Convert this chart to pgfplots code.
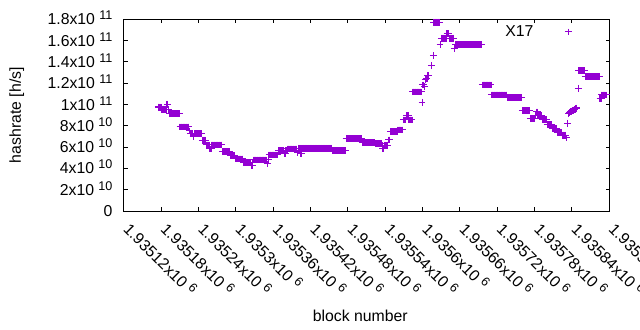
\documentclass[border=0pt]{standalone}
\usepackage{fontspec}
\setmainfont{Liberation Sans}
\usepackage{pgfplots}
\pgfplotsset{compat=1.18}
\definecolor{dv}{HTML}{9400D3}
\newcommand{\sx}[2]{#1x10\ \raisebox{5bp}{\fontsize{12.6bp}{13bp}\selectfont #2}}

\begin{document}
\begin{tikzpicture}[font=\fontsize{15.8bp}{19bp}\selectfont]
\begin{axis}[
  at={(0,0)}, anchor=south west,
  scale only axis, width=485.3bp, height=191.7bp,
  xmin=120, xmax=900, ymin=0, ymax=1.8e11,
  scaled y ticks=false, scaled x ticks=false,
  axis line style={line width=1bp},
  every tick/.style={line width=1bp, black},
  major tick length=3.8bp,
  tick align=inside,
  xtick={120,180,240,300,360,420,480,540,600,660,720,780,840,900},
  xticklabels={\sx{1.93512}{6},\sx{1.93518}{6},\sx{1.93524}{6},\sx{1.9353}{6},\sx{1.93536}{6},\sx{1.93542}{6},\sx{1.93548}{6},\sx{1.93554}{6},\sx{1.9356}{6},\sx{1.93566}{6},\sx{1.93572}{6},\sx{1.93578}{6},\sx{1.93584}{6},\sx{1.9359}{6}},
  ytick={0,2e10,4e10,6e10,8e10,1e11,1.2e11,1.4e11,1.6e11,1.8e11},
  yticklabels={0,\sx{2}{10},\sx{4}{10},\sx{6}{10},\sx{8}{10},\sx{1}{11},\sx{1.2}{11},\sx{1.4}{11},\sx{1.6}{11},\sx{1.8}{11}},
  xticklabel style={inner sep=0pt, xshift=-1.5bp, yshift=-19.5bp, rotate=-45, anchor=base west},
  yticklabel style={inner sep=0pt, xshift=-11.3bp, yshift=-5.5bp, anchor=base east},
  xlabel={block number},
  ylabel={hashrate [h/s]},
  every axis x label/.style={at={(axis description cs:0.487,0)}, yshift=-105bp, anchor=center, inner sep=0pt},
  every axis y label/.style={at={(axis description cs:0,0.5)}, xshift=-107.3bp, rotate=90, anchor=center, inner sep=0pt},
  legend plot pos=right,
  legend style={draw=none, fill=none, inner sep=0pt, outer sep=0pt,
    at={(axis description cs:1,1)}, anchor=east, xshift=-37.6bp, yshift=-12.7bp,
    nodes={inner sep=0pt}, /tikz/every odd column/.style={column sep=31.4bp}},
  legend image code/.code={\draw[#1] plot coordinates {(0bp,0bp)};},
]
% x = block number - 1935000, y = hashrate [h/s]
\addplot[only marks, mark=+, mark size=3.4bp, color=dv, line width=1bp] coordinates {
(175,9.77e10)(176,9.73e10)(177,9.73e10)(178,9.73e10)(179,9.73e10)(180,9.73e10)
(181,9.55e10)(182,9.55e10)(183,9.55e10)(184,9.55e10)(185,9.55e10)(186,9.55e10)(187,9.55e10)(188,9.55e10)
(189,1.001e11)(190,1.001e11)(191,9.55e10)
(193,9.16e10)(194,9.16e10)(195,9.16e10)(196,9.16e10)(197,9.16e10)(198,9.16e10)(199,9.16e10)(200,9.16e10)(201,9.16e10)
(202,9.16e10)(203,9.16e10)(204,9.16e10)(205,9.16e10)(206,9.16e10)(207,9.16e10)(208,9.16e10)(209,9.16e10)
(210,7.89e10)(211,7.89e10)(212,7.89e10)(213,7.89e10)(214,7.89e10)(215,7.89e10)(216,7.89e10)(217,7.89e10)
(218,7.89e10)(219,7.89e10)(220,7.89e10)(221,7.89e10)(222,7.89e10)(223,7.89e10)(224,7.89e10)
(225,7.52e10)(226,7.52e10)
(227,7.24e10)(228,7.24e10)(229,7.24e10)(230,7.24e10)(231,7.00e10)(232,7.00e10)
(233,7.24e10)(234,7.24e10)(235,7.24e10)(236,7.24e10)(237,7.24e10)(238,7.24e10)(239,7.24e10)
(240,7.24e10)(241,7.24e10)(242,7.24e10)(243,7.24e10)(244,7.24e10)(245,7.24e10)
(246,6.63e10)(247,6.63e10)(248,6.63e10)(249,6.63e10)(250,6.63e10)(251,6.63e10)
(252,6.20e10)(253,6.20e10)(254,6.20e10)(255,6.20e10)(256,6.20e10)(257,6.20e10)
(258,5.83e10)(259,5.83e10)(260,5.83e10)
(261,6.20e10)(262,6.20e10)(263,6.20e10)(264,6.20e10)(265,6.20e10)(266,6.20e10)(267,6.20e10)(268,6.20e10)(269,6.20e10)
(270,6.20e10)(271,6.20e10)(272,6.20e10)(273,6.20e10)(274,6.20e10)(275,6.20e10)(276,6.20e10)(277,6.20e10)
(278,5.55e10)(279,5.55e10)(280,5.55e10)(281,5.55e10)(282,5.55e10)(283,5.55e10)(284,5.55e10)
(285,5.55e10)(286,5.55e10)(287,5.55e10)(288,5.55e10)(289,5.55e10)(290,5.55e10)
(291,5.22e10)(292,5.22e10)(293,5.22e10)(294,5.22e10)(295,5.22e10)(296,5.22e10)(297,5.22e10)(298,5.22e10)
(299,4.89e10)(300,4.89e10)(301,4.89e10)(302,4.89e10)(303,4.89e10)(304,4.89e10)(305,4.89e10)
(306,4.89e10)(307,4.89e10)(308,4.89e10)(309,4.89e10)(310,4.89e10)(311,4.89e10)
(312,4.56e10)(313,4.56e10)(314,4.56e10)(315,4.56e10)(316,4.56e10)(317,4.56e10)(318,4.56e10)
(319,4.56e10)(320,4.56e10)(321,4.56e10)(322,4.56e10)(323,4.56e10)(324,4.56e10)
(325,4.23e10)(326,4.23e10)(327,4.56e10)
(328,4.79e10)(329,4.79e10)(330,4.79e10)(331,4.79e10)(332,4.79e10)(333,4.79e10)(334,4.79e10)(335,4.79e10)
(336,4.79e10)(337,4.79e10)(338,4.79e10)(339,4.79e10)(340,4.79e10)(341,4.79e10)(342,4.79e10)(343,4.79e10)
(344,4.79e10)(345,4.79e10)(346,4.79e10)(347,4.79e10)(348,4.79e10)(349,4.79e10)
(350,4.42e10)(351,4.42e10)(352,4.79e10)
(353,5.26e10)(354,5.26e10)(355,5.26e10)(356,5.26e10)(357,5.26e10)(358,5.26e10)(359,5.26e10)(360,5.26e10)
(361,5.26e10)(362,5.26e10)(363,5.26e10)(364,5.26e10)(365,5.26e10)(366,5.26e10)(367,5.26e10)
(368,5.69e10)(369,5.69e10)(370,5.69e10)(371,5.69e10)(372,5.69e10)(373,5.69e10)(374,5.69e10)(375,5.69e10)
(376,5.69e10)(377,5.69e10)(378,5.36e10)(379,5.36e10)(380,5.69e10)(381,5.69e10)(382,5.69e10)
(383,5.83e10)(384,5.83e10)(385,5.83e10)(386,5.83e10)(387,5.83e10)(388,5.83e10)(389,5.83e10)(390,5.83e10)
(391,5.83e10)(392,5.83e10)(393,5.83e10)(394,5.83e10)(395,5.83e10)(396,5.83e10)(397,5.83e10)(398,5.83e10)
(399,5.45e10)
(400,5.90e10)(401,5.90e10)(402,5.90e10)(403,5.90e10)(404,5.36e10)(405,5.36e10)
(406,5.90e10)(407,5.90e10)(408,5.90e10)(409,5.90e10)(410,5.90e10)(411,5.90e10)(412,5.90e10)(413,5.90e10)
(414,5.90e10)(415,5.90e10)(416,5.90e10)(417,5.90e10)(418,5.90e10)(419,5.90e10)(420,5.90e10)(421,5.90e10)
(422,5.90e10)(423,5.90e10)(424,5.90e10)(425,5.90e10)(426,5.90e10)(427,5.90e10)(428,5.90e10)(429,5.90e10)
(430,5.90e10)(431,5.90e10)(432,5.90e10)(433,5.90e10)(434,5.90e10)(435,5.90e10)(436,5.90e10)(437,5.90e10)
(438,5.90e10)(439,5.90e10)(440,5.90e10)(441,5.90e10)(442,5.90e10)(443,5.90e10)(444,5.90e10)(445,5.90e10)
(446,5.90e10)(447,5.90e10)(448,5.90e10)(449,5.90e10)(450,5.90e10)(451,5.90e10)(452,5.90e10)(453,5.90e10)(454,5.90e10)
(455,5.69e10)(456,5.69e10)(457,5.69e10)(458,5.69e10)(459,5.69e10)(460,5.69e10)(461,5.69e10)(462,5.69e10)
(463,5.69e10)(464,5.69e10)(465,5.69e10)(466,5.69e10)(467,5.69e10)(468,5.69e10)(469,5.69e10)(470,5.69e10)
(471,5.69e10)(472,5.69e10)(473,5.69e10)(474,5.69e10)(475,5.69e10)(476,5.69e10)
(477,6.81e10)(478,6.81e10)(479,6.81e10)(480,6.81e10)(481,6.81e10)(482,6.81e10)(483,6.81e10)(484,6.81e10)
(485,6.81e10)(486,6.81e10)(487,6.81e10)(488,6.81e10)(489,6.81e10)(490,6.81e10)(491,6.81e10)(492,6.81e10)
(493,6.81e10)(494,6.81e10)(495,6.81e10)(496,6.81e10)(497,6.81e10)(498,6.81e10)(499,6.81e10)(500,6.81e10)
(501,6.81e10)(502,6.81e10)
(503,6.44e10)(504,6.44e10)(505,6.44e10)(506,6.44e10)(507,6.44e10)(508,6.44e10)(509,6.44e10)(510,6.44e10)
(511,6.44e10)(512,6.44e10)(513,6.44e10)(514,6.44e10)(515,6.44e10)(516,6.44e10)(517,6.44e10)(518,6.44e10)
(519,6.44e10)(520,6.44e10)(521,6.44e10)(522,6.44e10)(523,6.44e10)
(524,6.34e10)(525,6.34e10)(526,6.34e10)(527,6.34e10)(528,6.34e10)(529,6.34e10)(530,6.34e10)(531,6.34e10)
(532,6.34e10)(533,6.34e10)(534,6.34e10)
(535,6.16e10)(536,5.83e10)(537,5.83e10)(538,6.16e10)(539,6.16e10)(540,6.16e10)(541,6.16e10)(542,6.16e10)
(543,6.16e10)(544,6.16e10)
(545,6.67e10)(546,6.67e10)(547,6.67e10)
(548,7.47e10)(549,7.47e10)(550,7.47e10)(551,7.47e10)(552,7.47e10)(553,7.47e10)(554,7.47e10)(555,7.47e10)
(556,7.47e10)(557,7.47e10)(558,7.47e10)(559,7.47e10)
(560,7.61e10)(561,7.61e10)(562,7.61e10)(563,7.61e10)(564,7.61e10)(565,7.61e10)(566,7.61e10)(567,7.61e10)(568,7.61e10)
(569,8.55e10)(570,8.55e10)(571,8.55e10)(572,8.55e10)(573,8.55e10)(574,8.93e10)(575,8.93e10)(576,8.93e10)
(577,8.93e10)(578,8.55e10)(579,8.55e10)(580,8.55e10)(581,8.55e10)(582,8.55e10)(583,8.55e10)
(584,1.118e11)(585,1.118e11)(586,1.118e11)(587,1.118e11)(588,1.118e11)(589,1.118e11)(590,1.118e11)(591,1.118e11)
(592,1.118e11)(593,1.118e11)(594,1.118e11)(595,1.118e11)(596,1.118e11)(597,1.118e11)(598,1.118e11)
(599,1.022e11)
(600,1.184e11)(601,1.184e11)(603,1.168e11)(604,1.236e11)(605,1.236e11)(606,1.247e11)(607,1.247e11)
(608,1.269e11)(609,1.269e11)
(614,1.366e11)(617,1.457e11)
(618,1.773e11)(619,1.773e11)(620,1.773e11)(621,1.773e11)(622,1.773e11)(623,1.773e11)(624,1.773e11)
(625,1.773e11)(626,1.773e11)(627,1.773e11)
(628,1.560e11)
(630,1.621e11)(631,1.621e11)(632,1.621e11)(633,1.621e11)(634,1.621e11)(635,1.621e11)(636,1.621e11)
(637,1.621e11)(638,1.621e11)(639,1.664e11)(640,1.664e11)(641,1.664e11)(642,1.664e11)
(643,1.621e11)(644,1.621e11)(645,1.621e11)(646,1.621e11)(647,1.621e11)(648,1.621e11)(649,1.621e11)(650,1.621e11)
(651,1.523e11)
(653,1.560e11)(654,1.560e11)(655,1.560e11)(656,1.560e11)(657,1.560e11)(658,1.560e11)(659,1.560e11)(660,1.560e11)
(661,1.560e11)(662,1.560e11)(663,1.560e11)(664,1.560e11)(665,1.560e11)(666,1.560e11)(667,1.560e11)(668,1.560e11)
(669,1.560e11)(670,1.560e11)(671,1.560e11)(672,1.560e11)(673,1.560e11)(674,1.560e11)(675,1.560e11)(676,1.560e11)
(677,1.560e11)(678,1.560e11)(679,1.560e11)(680,1.560e11)(681,1.560e11)(682,1.560e11)(683,1.560e11)(684,1.560e11)
(685,1.560e11)(686,1.560e11)(687,1.560e11)(688,1.560e11)(689,1.560e11)(690,1.560e11)(691,1.560e11)(692,1.560e11)
(693,1.560e11)(694,1.560e11)(695,1.560e11)
(696,1.184e11)(697,1.184e11)(698,1.184e11)(699,1.184e11)(700,1.184e11)(701,1.184e11)(702,1.184e11)(703,1.184e11)
(704,1.184e11)(705,1.184e11)(706,1.184e11)(707,1.184e11)(708,1.184e11)(709,1.184e11)(710,1.184e11)
(711,1.090e11)(712,1.090e11)(713,1.090e11)(714,1.090e11)(715,1.090e11)(716,1.090e11)(717,1.090e11)(718,1.090e11)
(719,1.090e11)(720,1.090e11)(721,1.090e11)(722,1.090e11)(723,1.090e11)(724,1.090e11)(725,1.090e11)(726,1.090e11)
(727,1.090e11)(728,1.090e11)(729,1.090e11)(730,1.090e11)(731,1.090e11)(732,1.090e11)(733,1.090e11)(734,1.090e11)(735,1.090e11)
(736,1.062e11)(737,1.062e11)(738,1.062e11)(739,1.062e11)(740,1.062e11)(741,1.062e11)(742,1.062e11)(743,1.062e11)
(744,1.062e11)(745,1.062e11)(746,1.062e11)(747,1.062e11)(748,1.062e11)(749,1.062e11)(750,1.062e11)(751,1.062e11)
(752,1.062e11)(753,1.062e11)(754,1.062e11)(755,1.062e11)(756,1.062e11)(757,1.062e11)(758,1.062e11)(759,1.062e11)
(760,9.40e10)(761,9.40e10)(762,9.40e10)(763,9.40e10)(764,9.40e10)(765,9.40e10)(766,9.40e10)(767,9.40e10)
(768,9.40e10)(769,9.40e10)(770,9.40e10)(771,9.40e10)(772,9.40e10)
(773,8.69e10)(774,8.69e10)(775,8.69e10)(776,8.69e10)(777,8.69e10)(778,8.69e10)(779,8.69e10)(780,8.69e10)
(781,8.98e10)(782,8.98e10)(783,9.30e10)(784,9.30e10)(785,8.98e10)(786,8.98e10)(787,8.98e10)(788,8.98e10)
(789,8.98e10)(790,8.98e10)(791,8.98e10)
(792,8.60e10)(793,8.60e10)(794,8.60e10)(795,8.60e10)(796,8.60e10)(797,8.60e10)(798,8.60e10)(799,8.60e10)
(800,8.13e10)(801,8.13e10)(802,8.13e10)(803,8.13e10)(804,8.13e10)(805,8.13e10)(806,8.13e10)(807,8.13e10)
(808,7.75e10)(809,7.75e10)(810,7.75e10)(811,7.75e10)(812,7.75e10)(813,7.75e10)(814,7.75e10)(815,7.75e10)
(816,7.38e10)(817,7.38e10)(818,7.38e10)(819,7.38e10)(820,7.38e10)(821,7.38e10)(822,7.38e10)(823,7.38e10)
(824,7.10e10)(825,7.10e10)(826,7.10e10)(827,7.10e10)(828,7.10e10)(829,7.10e10)(830,7.10e10)
(831,6.86e10)(833,8.24e10)(835,9.12e10)
(836,9.28e10)(837,9.30e10)(838,9.33e10)(839,9.36e10)(840,9.39e10)(841,9.42e10)(842,9.45e10)(843,9.48e10)
(844,9.51e10)(845,9.55e10)(846,9.59e10)(847,9.63e10)(848,9.68e10)
(850,1.153e11)
(851,1.316e11)(852,1.316e11)(853,1.316e11)(854,1.316e11)(855,1.316e11)(856,1.316e11)(857,1.316e11)(858,1.316e11)
(859,1.316e11)(860,1.316e11)
(861,1.262e11)(862,1.262e11)(863,1.262e11)(864,1.262e11)(865,1.262e11)(866,1.262e11)(867,1.262e11)(868,1.262e11)
(869,1.262e11)(870,1.262e11)(871,1.262e11)(872,1.262e11)(873,1.262e11)(874,1.262e11)(875,1.262e11)(876,1.262e11)
(877,1.262e11)(878,1.262e11)(879,1.262e11)(880,1.262e11)(881,1.262e11)(882,1.262e11)(883,1.262e11)(884,1.262e11)
(885,1.059e11)(886,1.059e11)(887,1.059e11)
(888,1.090e11)(889,1.090e11)(890,1.090e11)(891,1.090e11)(892,1.090e11)(893,1.090e11)(894,1.090e11)(895,1.090e11)
};
\addlegendentry{X17}
\end{axis}
\pgfresetboundingbox
\path[use as bounding box] (-124bp,-119bp) rectangle (516bp,211bp);
\end{tikzpicture}
\end{document}
